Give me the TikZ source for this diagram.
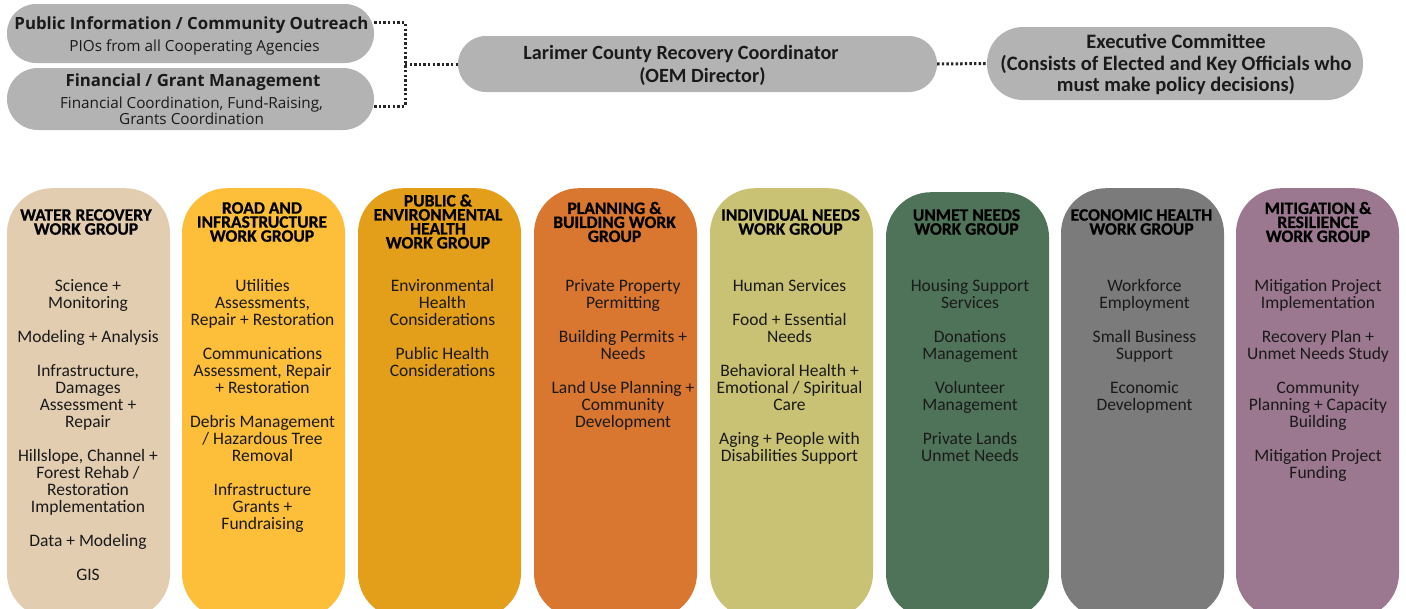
\documentclass[tikz,border=0pt]{standalone}
\usepackage{fontspec}
\setmainfont{Carlito}
\newfontfamily\opensans{Open Sans}
\newfontfamily\headfont{Carlito}[BoldFeatures={FakeBold=0.8}]
\definecolor{gTop}{HTML}{B3B3B3}
\definecolor{cWater}{HTML}{E2CDB1}
\definecolor{cRoad}{HTML}{FDBE3A}
\definecolor{cHealth}{HTML}{E39E1A}
\definecolor{cPlan}{HTML}{D9762F}
\definecolor{cNeeds}{HTML}{C9C274}
\definecolor{cUnmet}{HTML}{4F7359}
\definecolor{cEcon}{HTML}{7B7B7B}
\definecolor{cMitig}{HTML}{9B788F}
\definecolor{ink}{HTML}{1A1A1A}
\begin{document}
\begin{tikzpicture}[x=1pt,y=-1pt,
  pill/.style={fill=gTop, draw=none, inner sep=0pt},
  groupcol/.style={draw=none, inner sep=0pt, minimum width=163pt,
    minimum height=430pt, rounded corners=45pt, anchor=north},
  ghead/.style={align=center, inner sep=0pt, text=black,
    font=\headfont\bfseries\fontsize{17.5}{14}\selectfont},
  gitems/.style={align=center, inner sep=0pt, text=ink, anchor=north,
    font=\fontsize{17.5}{17}\selectfont},
  toptitle/.style={inner sep=0pt, text=ink, font=\opensans\bfseries\fontsize{16.8}{18}\selectfont},
  topsub/.style={inner sep=0pt, align=center, text=ink, font=\opensans\fontsize{15.3}{16}\selectfont},
  lead/.style={inner sep=0pt, anchor=base, text=ink, font=\bfseries\fontsize{20.2}{23}\selectfont},
  dotline/.style={line width=3pt, dash pattern=on 2.4pt off 2.2pt, draw=black!85}]
\useasboundingbox (0,0) rectangle (1406,608);
\clip (0,0) rectangle (1406,608);

% ---- leadership row ----
\node[pill, minimum width=367pt, minimum height=59pt, rounded corners=29pt] (pio) at (190.5,33.5) {};
\node[pill, minimum width=367pt, minimum height=62pt, rounded corners=31pt] (fin) at (190.5,99) {};
\node[pill, minimum width=479pt, minimum height=56pt, rounded corners=28pt] (rc) at (697.5,64) {};
\node[pill, minimum width=376pt, minimum height=73pt, rounded corners=36pt] (exec) at (1175,63.5) {};

\node[toptitle] (pioT) at (191.5,25) {Public Information / Community Outreach};
\node[topsub] (pioS) at (194.5,47) {PIOs from all Cooperating Agencies};
\node[toptitle] (finT) at (193,82) {Financial / Grant Management};
\node[topsub] (finS) at (191.5,111) {Financial Coordination, Fund-Raising,\\Grants Coordination};
\node[lead] (rcT) at (681,59) {Larimer County Recovery Coordinator};
\node[lead] (rcS) at (702.5,82) {(OEM Director)};
\node[lead, anchor=center, align=center, font=\bfseries\fontsize{20.5}{21.5}\selectfont] (execT) at (1176,64.5) {Executive Committee\\(Consists of Elected and Key Officials who\\must make policy decisions)};

% dotted reporting lines
\coordinate (jn) at (405,64);
\draw[dotline] ([yshift=11pt]pio.east) -| (jn);
\draw[dotline] ([yshift=-7pt]fin.east) -| (jn);
\draw[dotline] (jn) -- (rc.west);
\draw[dotline] (rc.east) -- (exec.west);

% ---- work group columns ----
\node[groupcol, fill=cWater] (g1) at (88.5,188) {};
\node[groupcol, fill=cRoad]  (g2) at (263.5,188) {};
\node[groupcol, fill=cHealth](g3) at (439.5,188) {};
\node[groupcol, fill=cPlan]  (g4) at (615.5,188) {};
\node[groupcol, fill=cNeeds] (g5) at (791.5,188) {};
\node[groupcol, fill=cUnmet, minimum height=426pt] (g6) at (967.5,192) {};
\node[groupcol, fill=cEcon]  (g7) at (1142.5,188) {};
\node[groupcol, fill=cMitig] (g8) at (1317.5,188) {};

% headings
\node[ghead] (h1) at (86,222) {WATER RECOVERY\\WORK GROUP};
\node[ghead] (h2) at (262,222) {ROAD AND\\INFRASTRUCTURE\\WORK GROUP};
\node[ghead] (h3) at (438,221.5) {PUBLIC \&\\ENVIRONMENTAL\\HEALTH\\WORK GROUP};
\node[ghead] (h4) at (614.5,222) {PLANNING \&\\BUILDING WORK\\GROUP};
\node[ghead] (h5) at (790.5,222) {INDIVIDUAL NEEDS\\WORK GROUP};
\node[ghead] (h6) at (966.5,222) {UNMET NEEDS\\WORK GROUP};
\node[ghead] (h7) at (1141.5,222) {ECONOMIC HEALTH\\WORK GROUP};
\node[ghead] (h8) at (1318,222) {MITIGATION \&\\RESILIENCE\\WORK GROUP};

% functions of each group
\node[gitems] (i1) at (88,279) {Science +\\Monitoring\\[17pt]Modeling + Analysis\\[17pt]Infrastructure,\\Damages\\Assessment +\\Repair\\[17pt]Hillslope, Channel +\\Forest Rehab /\\Restoration\\Implementation\\[17pt]Data + Modeling\\[17pt]GIS};
\node[gitems] (i2) at (262.5,279) {Utilities\\Assessments,\\Repair + Restoration\\[17pt]Communications\\Assessment, Repair\\+ Restoration\\[17pt]Debris Management\\/ Hazardous Tree\\Removal\\[17pt]Infrastructure\\Grants +\\Fundraising};
\node[gitems] (i3) at (442.5,279) {Environmental\\Health\\Considerations\\[17pt]Public Health\\Considerations};
\node[gitems] (i4) at (623,279) {Private Property\\Permitting\\[17pt]Building Permits +\\Needs\\[17pt]Land Use Planning +\\Community\\Development};
\node[gitems] (i5) at (789.5,279) {Human Services\\[17pt]Food + Essential\\Needs\\[17pt]Behavioral Health +\\Emotional / Spiritual\\Care\\[17pt]Aging + People with\\Disabilities Support};
\node[gitems] (i6) at (970,279) {Housing Support\\Services\\[17pt]Donations\\Management\\[17pt]Volunteer\\Management\\[17pt]Private Lands\\Unmet Needs};
\node[gitems] (i7) at (1144.5,279) {Workforce\\Employment\\[17pt]Small Business\\Support\\[17pt]Economic\\Development};
\node[gitems] (i8) at (1318,279) {Mitigation Project\\Implementation\\[17pt]Recovery Plan +\\Unmet Needs Study\\[17pt]Community\\Planning + Capacity\\Building\\[17pt]Mitigation Project\\Funding};
\end{tikzpicture}
\end{document}
